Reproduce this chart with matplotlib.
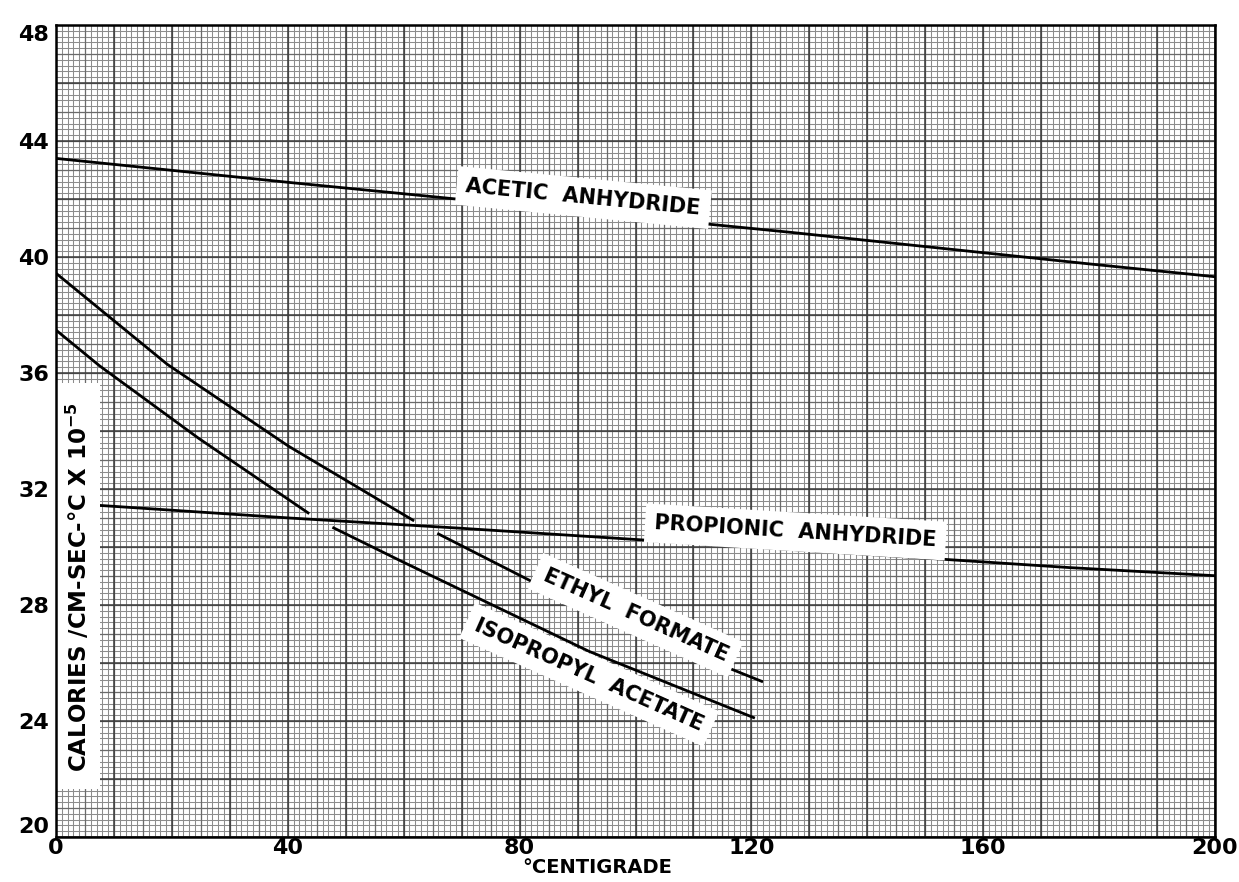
import matplotlib
matplotlib.use("Agg")
import matplotlib.pyplot as plt
import numpy as np
from matplotlib.patches import Rectangle

# ---------------- data ----------------
acetic_x = [0, 40.8, 58, 126.8, 178.4, 200]
acetic_y = [43.40, 42.56, 42.22, 40.85, 39.76, 39.32]

propionic_x = [0, 7.1, 40.3, 69.6, 152.1, 174.9, 200]
propionic_y = [31.53, 31.44, 31.00, 30.65, 29.59, 29.29, 29.01]

# curves drawn with a small break where they cross the propionic line
ethyl_x_a = [0, 19.2, 40.1, 61.8]
ethyl_y_a = [39.44, 36.30, 33.48, 30.90]
ethyl_x_b = [65.8, 94.0, 122.0]
ethyl_y_b = [30.47, 27.60, 25.35]

iso_x_a = [0, 7.5, 24.6, 43.7]
iso_y_a = [37.48, 36.25, 33.75, 31.15]
iso_x_b = [47.7, 59.9, 92.0, 120.6]
iso_y_b = [30.68, 29.48, 26.40, 24.10]

x_ticks = [0, 40, 80, 120, 160, 200]
y_ticks = [20, 24, 28, 32, 36, 40, 44, 48]

curve_labels = ["ACETIC  ANHYDRIDE", "PROPIONIC  ANHYDRIDE", "ETHYL  FORMATE", "ISOPROPYL  ACETATE"]
y_title = "CALORIES /CM-SEC-°C X 10$^{\\mathbf{-5}}$"
x_title = "°CENTIGRADE"

# ---------------- figure ----------------
plt.rcParams["font.family"] = ["DejaVu Sans"]
plt.rcParams["mathtext.fontset"] = "dejavusans"

fig = plt.figure(figsize=(12.39, 8.82), dpi=100)
fig.patch.set_facecolor("white")
ax = fig.add_axes([56 / 1239, 45 / 882, 1159 / 1239, 812 / 882])
ax.set_xlim(0, 200)
ax.set_ylim(20, 48)

# graph-paper grid: fine / medium / heavy
fine_c, med_c, heavy_c = "#8c8c8c", "#6a6a6a", "#3c3c3c"
ax.vlines(np.arange(0, 200.01, 1), 20, 48, colors=fine_c, lw=0.75, zorder=0)
ax.hlines(np.arange(20, 48.001, 0.2), 0, 200, colors=fine_c, lw=0.75, zorder=0)
ax.vlines(np.arange(0, 200.01, 5), 20, 48, colors=med_c, lw=0.9, zorder=0.5)
ax.hlines(np.arange(20, 48.01, 1), 0, 200, colors=med_c, lw=0.9, zorder=0.5)
ax.vlines(np.arange(0, 200.01, 10), 20, 48, colors=heavy_c, lw=1.1, zorder=0.6)
ax.hlines(np.arange(20, 48.01, 2), 0, 200, colors=heavy_c, lw=1.1, zorder=0.6)

# curves
lw = 2.0
ax.plot(acetic_x, acetic_y, color="black", lw=lw, zorder=2)
ax.plot(propionic_x, propionic_y, color="black", lw=lw, zorder=2)
for xs, ys in [(ethyl_x_a, ethyl_y_a), (ethyl_x_b, ethyl_y_b),
               (iso_x_a, iso_y_a), (iso_x_b, iso_y_b)]:
    ax.plot(xs, ys, color="black", lw=lw, zorder=2,
            solid_capstyle="butt", solid_joinstyle="round")

# curve labels on white strips
box = dict(boxstyle="square,pad=0.45", facecolor="white", edgecolor="none")
label_pos = [(91, 42.05, -5.5), (127.6, 30.52, -3.5), (100.0, 27.65, -24), (92.0, 25.6, -24)]
for txt, (lx, ly, rot) in zip(curve_labels, label_pos):
    ax.text(lx, ly, txt, rotation=rot, rotation_mode="anchor", ha="center", va="center",
            fontsize=15, fontweight="bold", color="black", bbox=box, zorder=3)

# y-axis title inside a white box at the left edge
ax.add_patch(Rectangle((0, 21.65), 7.6, 14.0, facecolor="white", edgecolor="none", zorder=3))
ax.text(3.8, 28.6, y_title, rotation=90, ha="center", va="center",
        fontsize=16.5, fontweight="bold", zorder=4)

# x-axis title below the 80 tick
ax.text(80.5, -0.026, x_title, transform=ax.get_xaxis_transform(), ha="left", va="top",
        fontsize=14, fontweight="bold")

# ticks
ax.set_xticks(x_ticks)
ax.set_yticks(y_ticks)
ax.set_xticklabels([str(v) for v in x_ticks], fontsize=16, fontweight="bold")
ax.set_yticklabels([str(v) for v in y_ticks], fontsize=16, fontweight="bold")
ax.tick_params(axis="both", length=0)
ax.tick_params(axis="x", pad=1)
ax.tick_params(axis="y", pad=5)
ylabs = ax.get_yticklabels()
ylabs[0].set_va("bottom")
ylabs[-1].set_va("top")

for s in ax.spines.values():
    s.set_linewidth(1.8)
    s.set_color("black")
    s.set_zorder(5)

fig.savefig("out.png", dpi=100, facecolor="white")
